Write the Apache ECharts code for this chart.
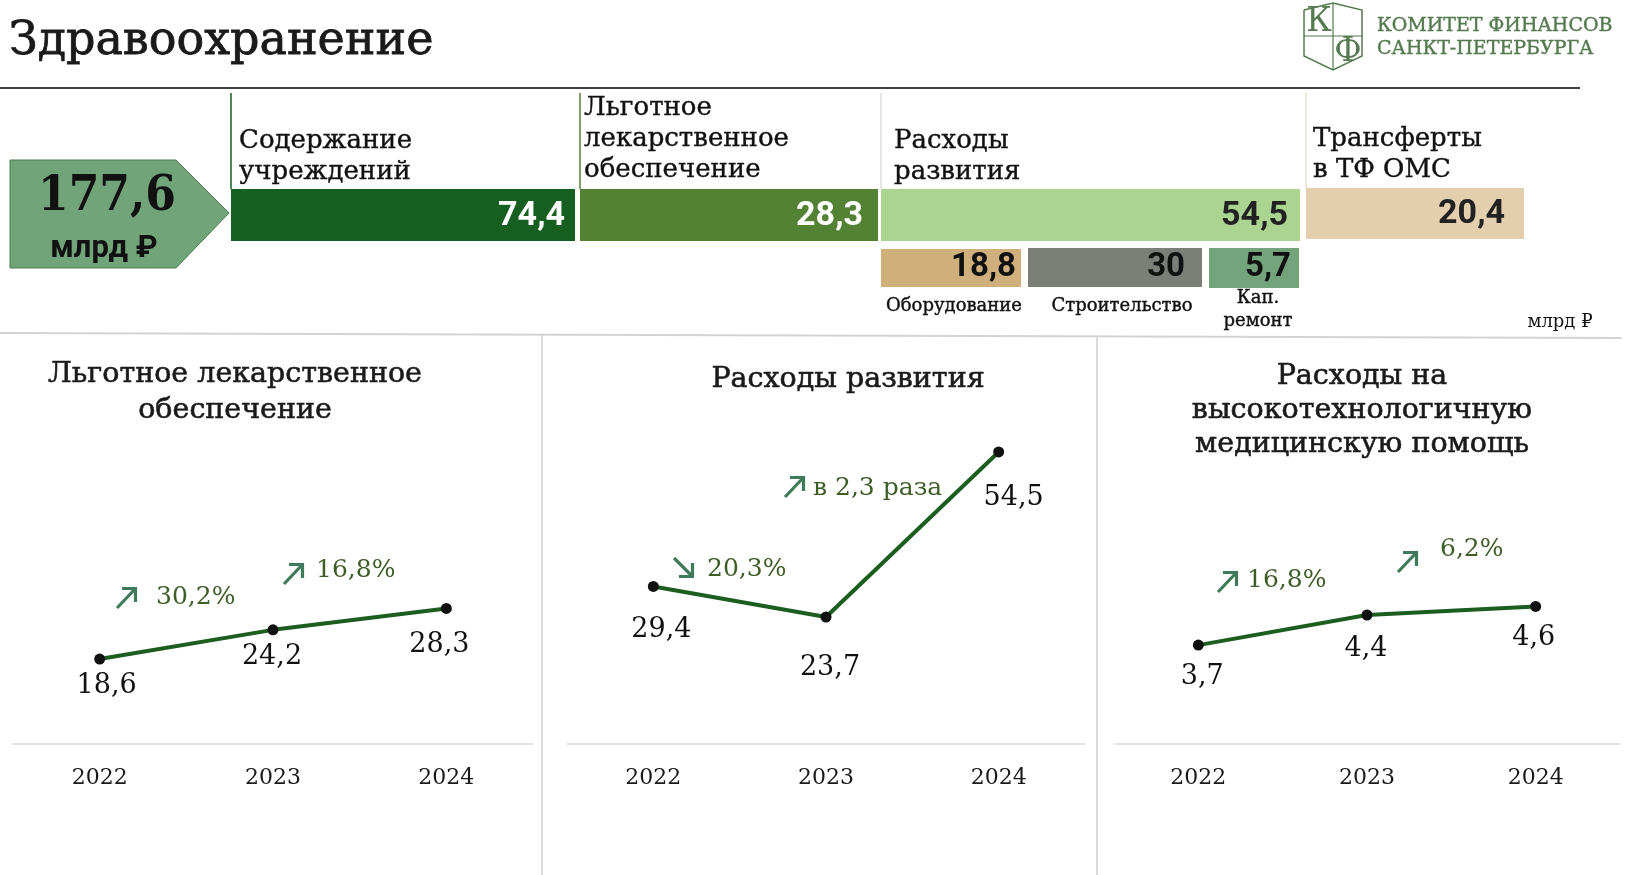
<!DOCTYPE html>
<html>
<head>
<meta charset="utf-8">
<script src="https://cdn.jsdelivr.net/npm/echarts@6/dist/echarts.min.js"></script>
<style>
html,body{margin:0;padding:0;background:#fff;}
#c{width:1641px;height:875px;}
</style>
</head>
<body>
<div id="c"></div>
<script>
// ---------- DATA ----------
const pageTitle = 'Здравоохранение';
const totalValue = 177.6;
const totalUnit = 'млрд ₽';
const mainCategories = ['Содержание\nучреждений', 'Льготное\nлекарственное\nобеспечение', 'Расходы\nразвития', 'Трансферты\nв ТФ ОМС'];
const mainValues = [74.4, 28.3, 54.5, 20.4];
const devCategories = ['Оборудование', 'Строительство', 'Кап.\nремонт'];
const devValues = [18.8, 30, 5.7];
const unitNote = 'млрд ₽';

const years = ['2022', '2023', '2024'];
const chartTitles = ['Льготное лекарственное\nобеспечение', 'Расходы развития', 'Расходы на\nвысокотехнологичную\nмедицинскую помощь'];
const drugSeries = [18.6, 24.2, 28.3];
const devSeries = [29.4, 23.7, 54.5];
const hitechSeries = [3.7, 4.4, 4.6];
const drugGrowth = ['30,2%', '16,8%'];
const devGrowth = ['20,3%', 'в 2,3 раза'];
const hitechGrowth = ['16,8%', '6,2%'];

// ---------- LAYOUT / STYLE ----------
const SERIF = "'DejaVu Serif', serif";
const SERIF_C = "'DejaVu Serif Condensed', 'DejaVu Serif', serif";
const SANS = "Roboto, 'DejaVu Sans', sans-serif";
const fmt = v => String(v).replace('.', ',');

const mainBoxLayout = [
  {x: 231, y: 189, w: 344, h: 52, fill: '#175f20', ink: '#ffffff', pad: 10, sep: '#175f20', labelX: 239, labelY: 126},
  {x: 580, y: 189, w: 298, h: 52, fill: '#548235', ink: '#ffffff', pad: 15, sep: '#548235', labelX: 584, labelY: 93},
  {x: 881, y: 189, w: 419, h: 52, fill: '#acd491', ink: '#222222', pad: 12, sep: '#dcdcdc', labelX: 894, labelY: 126},
  {x: 1306, y: 188, w: 218, h: 51, fill: '#e3cfae', ink: '#222222', pad: 19, sep: '#eadfcd', labelX: 1313, labelY: 124}
];
const devBoxLayout = [
  {x: 881, y: 249, w: 140, h: 38, fill: '#cfb07c', pad: 5, labelX: 954},
  {x: 1028, y: 248, w: 174, h: 39, fill: '#7b7f78', pad: 17, labelX: 1122},
  {x: 1209, y: 248, w: 90, h: 40, fill: '#73a47b', pad: 8, labelX: 1258}
];

const lineCharts = [
  {values: drugSeries, growth: drugGrowth, left: 13, width: 520, min: 2.3, max: 68.3, titleX: 230, titleY: 352, titleLH: 36,
   offsets: [[7, 27], [-1, 27], [-7, 36]],
   notes: [{ax: 116, ay: 587, tx: 156, ty: 597}, {ax: 283, ay: 563, tx: 316, ty: 570}]},
  {values: devSeries, growth: devGrowth, left: 567, width: 518, min: 0, max: 64.2, titleX: 843, titleY: 358, titleLH: 34,
   offsets: [[8, 44], [4, 51], [15, 46]],
   notes: [{ax: 673, ay: 557, tx: 707, ty: 569}, {ax: 784, ay: 476, tx: 813, ty: 488}]},
  {values: hitechSeries, growth: hitechGrowth, left: 1114, width: 506, min: 1.4, max: 9.4, titleX: 1357, titleY: 355, titleLH: 34,
   offsets: [[4, 32], [-1, 34], [-2, 32]],
   notes: [{ax: 1217, ay: 571, tx: 1247, ty: 580}, {ax: 1397, ay: 551, tx: 1440, ty: 549}]}
];

const ARROW = '#3f7a5a';
const NOTE = '#3f5d27';

function arrow(x0, y0, up) {
  const s = 21;
  const shaft = up ? [[x0 + 1, y0 + s], [x0 + s - 2, y0 + 2]] : [[x0 + 1, y0 + 1], [x0 + s - 2, y0 + s - 2]];
  const head = up ? [[x0 + 6, y0 + 1.5], [x0 + s - 1.5, y0 + 1.5], [x0 + s - 1.5, y0 + 15]]
                  : [[x0 + s - 1.5, y0 + 6], [x0 + s - 1.5, y0 + s - 1.5], [x0 + 6, y0 + s - 1.5]];
  const st = {stroke: ARROW, lineWidth: 3.2, fill: null, lineCap: 'butt', lineJoin: 'miter'};
  return [
    {type: 'polyline', shape: {points: shaft}, style: st},
    {type: 'polyline', shape: {points: head}, style: st}
  ];
}

// ---------- GRAPHIC (decorations) ----------
const graphic = [];
graphic.push({type: 'text', x: 9, y: 42, style: {text: pageTitle, font: "46px " + SERIF, fill: '#1a1a1a', stroke: '#1a1a1a', lineWidth: 0.8, verticalAlign: 'middle'}});
graphic.push({type: 'line', shape: {x1: 0, y1: 88, x2: 1580, y2: 88}, style: {stroke: '#000', lineWidth: 1.5}});
graphic.push({type: 'line', shape: {x1: 0, y1: 333, x2: 1622, y2: 338}, style: {stroke: '#d3d3d3', lineWidth: 2}});
graphic.push({type: 'line', shape: {x1: 542, y1: 334, x2: 542, y2: 875}, style: {stroke: '#cfcfcf', lineWidth: 1.5}});
graphic.push({type: 'line', shape: {x1: 1097, y1: 336, x2: 1097, y2: 875}, style: {stroke: '#cfcfcf', lineWidth: 1.5}});

// logo
const LOGO = '#557a50';
graphic.push({type: 'polyline', shape: {points: [[1304, 10], [1333, 3], [1362, 10], [1362, 56], [1333, 70], [1304, 56], [1304, 10]]}, style: {stroke: LOGO, lineWidth: 1.5, fill: null}});
graphic.push({type: 'line', shape: {x1: 1333, y1: 3, x2: 1333, y2: 70}, style: {stroke: LOGO, lineWidth: 1.2}});
graphic.push({type: 'line', shape: {x1: 1304, y1: 36, x2: 1362, y2: 36}, style: {stroke: LOGO, lineWidth: 1.2}});
graphic.push({type: 'text', x: 1319, y: 22, style: {text: 'К', font: "33px " + SERIF, fill: LOGO, align: 'center', verticalAlign: 'middle'}});
graphic.push({type: 'text', x: 1348, y: 52, style: {text: 'Ф', font: "33px " + SERIF, fill: LOGO, align: 'center', verticalAlign: 'middle'}});
graphic.push({type: 'text', x: 1377, y: 26, style: {text: 'КОМИТЕТ ФИНАНСОВ', font: "19px " + SERIF, fill: LOGO, stroke: LOGO, lineWidth: 0.4, verticalAlign: 'middle'}});
graphic.push({type: 'text', x: 1377, y: 49, style: {text: 'САНКТ-ПЕТЕРБУРГА', font: "19px " + SERIF, fill: LOGO, stroke: LOGO, lineWidth: 0.4, verticalAlign: 'middle'}});

// total pentagon
graphic.push({type: 'polygon', shape: {points: [[10, 160], [176, 160], [229, 213], [176, 268], [10, 268]]}, style: {fill: '#72a47a', stroke: '#4a7d50', lineWidth: 1}});
graphic.push({type: 'text', x: 107, y: 197, style: {text: fmt(totalValue), font: "bold 49px " + SERIF_C, fill: '#111', align: 'center', verticalAlign: 'middle'}});
graphic.push({type: 'text', x: 104, y: 249, style: {text: totalUnit, font: "bold 31px " + SANS, fill: '#111', align: 'center', verticalAlign: 'middle'}});

// category labels + separators
mainBoxLayout.forEach((b, i) => {
  graphic.push({type: 'line', shape: {x1: b.x, y1: 93, x2: b.x, y2: b.y}, style: {stroke: b.sep, lineWidth: 1.5}});
  graphic.push({type: 'text', x: b.labelX, y: b.labelY, style: {text: mainCategories[i], font: "26px " + SERIF, fill: '#111', stroke: '#111', lineWidth: 0.4, verticalAlign: 'top', lineHeight: 31}});
});
devBoxLayout.forEach((b, i) => {
  const multi = devCategories[i].indexOf('\n') >= 0;
  graphic.push({type: 'text', x: b.labelX, y: multi ? 287 : 306, style: {text: devCategories[i], font: "18px " + SERIF, fill: '#111', stroke: '#111', lineWidth: 0.4, align: 'center', verticalAlign: multi ? 'top' : 'middle', lineHeight: 23}});
});
graphic.push({type: 'text', x: 1560, y: 322, style: {text: unitNote, font: "18px " + SERIF, fill: '#111', align: 'center', verticalAlign: 'middle'}});

// growth annotations
lineCharts.forEach(c => {
  c.notes.forEach((n, k) => {
    const up = c.values[k + 1] >= c.values[k];
    arrow(n.ax, n.ay, up).forEach(g => graphic.push(g));
    graphic.push({type: 'text', x: n.tx, y: n.ty, style: {text: c.growth[k], font: "25px " + SERIF, fill: NOTE, verticalAlign: 'middle'}});
  });
});

// ---------- SERIES ----------
const series = [];
series.push({
  type: 'custom', coordinateSystem: 'none', silent: true,
  data: mainValues,
  renderItem: (params, api) => {
    const b = mainBoxLayout[params.dataIndex];
    return {type: 'group', children: [
      {type: 'rect', shape: {x: b.x, y: b.y, width: b.w, height: b.h}, style: {fill: b.fill}},
      {type: 'text', style: {text: fmt(api.value(0)), x: b.x + b.w - b.pad, y: b.y + b.h / 2 + 1, align: 'right', verticalAlign: 'middle', font: "bold 34px " + SANS, fill: b.ink}}
    ]};
  }
});
series.push({
  type: 'custom', coordinateSystem: 'none', silent: true,
  data: devValues,
  renderItem: (params, api) => {
    const b = devBoxLayout[params.dataIndex];
    return {type: 'group', children: [
      {type: 'rect', shape: {x: b.x, y: b.y, width: b.w, height: b.h}, style: {fill: b.fill}},
      {type: 'text', style: {text: fmt(api.value(0)), x: b.x + b.w - b.pad, y: b.y + b.h / 2, align: 'right', verticalAlign: 'middle', font: "bold 33px " + SANS, fill: '#111'}}
    ]};
  }
});

const grids = [], xAxes = [], yAxes = [], titles = [];
lineCharts.forEach((c, i) => {
  grids.push({left: c.left, width: c.width, top: 400, bottom: 131});
  xAxes.push({type: 'category', gridIndex: i, data: years, boundaryGap: true,
    axisLine: {lineStyle: {color: '#dadada', width: 1.5}}, axisTick: {show: false},
    axisLabel: {fontFamily: SERIF, fontSize: 22, color: '#1a1a1a', margin: 23}});
  yAxes.push({type: 'value', gridIndex: i, min: c.min, max: c.max, show: false, splitLine: {show: false}});
  titles.push({text: chartTitles[i], left: c.titleX, top: c.titleY, textAlign: 'center',
    textStyle: {fontFamily: SERIF, fontSize: 28.5, fontWeight: 'normal', color: '#1a1a1a', lineHeight: c.titleLH,
      textBorderColor: '#1a1a1a', textBorderWidth: 0.6}});
  series.push({
    type: 'line', xAxisIndex: i, yAxisIndex: i,
    data: c.values.map((v, k) => ({value: v, label: {offset: c.offsets[k]}})),
    lineStyle: {color: '#1b5e20', width: 4},
    itemStyle: {color: '#111', borderColor: '#111', borderWidth: 0},
    symbol: 'circle', symbolSize: 11,
    label: {show: true, position: 'inside', formatter: p => fmt(p.value), fontFamily: SERIF, fontSize: 27, color: '#111', align: 'center', verticalAlign: 'middle'},
    silent: true, animation: false
  });
});

const chart = echarts.init(document.getElementById('c'));
chart.setOption({
  backgroundColor: '#ffffff',
  animation: false,
  title: titles,
  grid: grids,
  xAxis: xAxes,
  yAxis: yAxes,
  series: series,
  graphic: graphic
});
</script>
</body>
</html>
